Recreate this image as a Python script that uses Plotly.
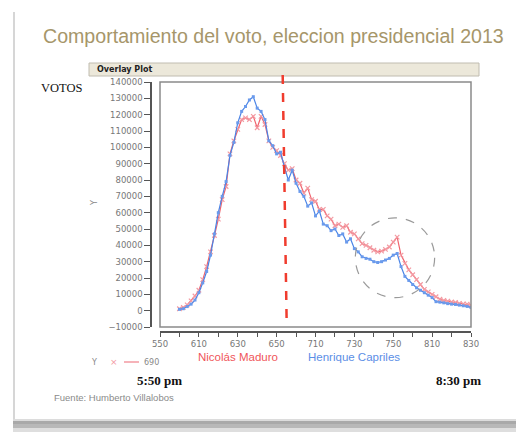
import plotly.graph_objects as go

# ---- data ----
minutes = list(range(10, 161, 2))  # minutes after 5:50 pm
capriles = [800, 1200, 2500, 4000, 6500, 11000, 17000, 24000, 34000, 47000,
            60000, 70000, 79000, 95000, 103000, 115000, 122000, 125000, 129000, 131000,
            124000, 122000, 117000, 104000, 101000, 96000, 97000, 88000, 80000, 86000,
            78000, 73000, 70000, 64000, 66000, 58000, 61000, 53000, 52000, 49000,
            50000, 46000, 47000, 42000, 44000, 38000, 36000, 33000, 32000, 31500,
            30000, 29500, 30000, 31000, 32000, 34000, 35000, 27000, 21000, 18500,
            16000, 14000, 12500, 11000, 9500, 8000, 5500, 5200, 4800, 4300,
            4000, 3800, 3400, 3000, 2600, 2000]
maduro = [1200, 2000, 3500, 6000, 9000, 12500, 19000, 27000, 36000, 46000,
          56000, 68000, 76000, 96000, 104000, 111000, 117000, 118000, 117000, 119000,
          112000, 119000, 114000, 104000, 100000, 98000, 95000, 90000, 86000, 87000,
          80000, 78000, 72000, 75000, 68000, 67000, 62000, 62000, 58000, 56000,
          52000, 53000, 51000, 52000, 48000, 47000, 44000, 41000, 40000, 38500,
          37000, 36000, 36500, 37500, 39000, 42000, 45000, 34000, 29000, 25000,
          22000, 19000, 16000, 13000, 11500, 10000, 8500, 7000, 6200, 5800,
          5300, 5000, 4500, 4200, 4000, 3300]
x_tick_vals = [0, 20, 40, 60, 80, 100, 120, 140, 160]
x_tick_text = ["550", "610", "630", "650", "710", "730", "750", "810", "830"]
y_tick_vals = list(range(-10000, 140001, 10000))

OFF = 8  # page body margin
W, H = 524 - OFF, 432 - OFF
L, R, T, B = 151 - OFF, 471 - OFF, 82 - OFF, 332 - OFF  # paper area in pixels


def px(x):
    return (x - OFF - L) / (R - L)


def py(y):
    return (B - (y - OFF)) / (B - T)


fig = go.Figure()
fig.add_trace(go.Scatter(
    x=minutes, y=maduro, mode="lines+markers", name="Nicolás Maduro",
    line=dict(color="#f0646e", width=1.2),
    marker=dict(symbol="x-thin", size=4.5, line=dict(color="#f39aa2", width=1.2)),
    cliponaxis=True))
fig.add_trace(go.Scatter(
    x=minutes, y=capriles, mode="lines+markers", name="Henrique Capriles",
    line=dict(color="#4a84e6", width=1.2),
    marker=dict(symbol="square", size=3, color="#6a9aec"),
    cliponaxis=True))

tickfont = dict(family="DejaVu Sans", size=8.5, color="#777777")

fig.update_layout(
    width=W, height=H,
    margin=dict(l=L, r=W - R, t=T, b=H - B, pad=0),
    paper_bgcolor="white", plot_bgcolor="white",
    showlegend=False,
    xaxis=dict(domain=[px(160), 1], range=[0, 160], anchor="free", position=0,
               tickvals=x_tick_vals, ticktext=x_tick_text, ticks="outside",
               ticklen=4, tickcolor="#555555", tickwidth=1,
               minor=dict(dtick=10, tick0=0, ticks="outside", ticklen=4,
                          tickcolor="#555555", showgrid=False),
               showline=True, linecolor="#555555", linewidth=1.5,
               showgrid=False, zeroline=False, tickfont=tickfont),
    yaxis=dict(domain=[py(327), 1], range=[-10000, 140000], anchor="free",
               position=0, tickvals=y_tick_vals, tickformat="d", ticks="outside",
               ticklen=6, tickcolor="#555555", showline=True, linecolor="#555555",
               linewidth=1.5, showgrid=False, zeroline=False,
               tickfont=tickfont),
)

shapes = []
# plot frame
shapes.append(dict(type="rect", xref="x domain", yref="y domain", x0=0, x1=1,
                   y0=0, y1=1, line=dict(color="#8a8a8a", width=1.5)))
# overlay header
shapes.append(dict(type="rect", xref="paper", yref="paper", x0=px(89), x1=px(479),
                   y0=py(76), y1=py(63), fillcolor="#ece8da",
                   line=dict(color="#c0bcb0", width=1), layer="below"))
# red dashed vertical line
shapes.append(dict(type="line", xref="paper", yref="paper", x0=px(282.7), x1=px(286.7),
                   y0=py(75), y1=py(325), line=dict(color="#f03c2e", width=2.5, dash="dash")))
# dashed circle
shapes.append(dict(type="circle", xref="x", yref="y", x0=100.5, x1=141.3,
                   y0=8000, y1=56800, line=dict(color="#9a9a9a", width=1.2, dash="dash")))
# legend line sample
shapes.append(dict(type="line", xref="paper", yref="paper", x0=px(124), x1=px(139),
                   y0=py(362), y1=py(362), line=dict(color="#f39aa2", width=1.5)))
# slide shadow: left edge
shapes.append(dict(type="line", xref="paper", yref="paper", x0=px(14), x1=px(14),
                   y0=py(12), y1=py(422), line=dict(color="#d6d6d6", width=2)))
# slide shadow: bottom
for y0, y1, c in [(419, 421, "#dcdcdc"), (421, 424, "#a9a9a9"),
                  (424, 428, "#b8b8b8"), (428, 432, "#dedede")]:
    shapes.append(dict(type="rect", xref="paper", yref="paper", x0=px(13), x1=px(524),
                       y0=py(y1), y1=py(y0), fillcolor=c, line=dict(width=0)))
fig.update_layout(shapes=shapes)


def ann(text, x, y, size, color, family="Liberation Sans", xanchor="center",
        textangle=0):
    fig.add_annotation(text=text, x=px(x), y=py(y), xref="paper", yref="paper",
                       showarrow=False, xanchor=xanchor, yanchor="middle",
                       textangle=textangle,
                       font=dict(family=family, size=size, color=color))


ann("Comportamiento del voto, eleccion presidencial 2013", 273.5, 36, 19.6, "#a6966a")
ann("<b>Overlay Plot</b>", 95, 69.5, 8, "#222222", family="DejaVu Sans", xanchor="left")
ann("VOTOS", 61.5, 88, 12.5, "#111111", family="Liberation Serif")
ann("Y", 94, 203, 8, "#888888", family="DejaVu Sans", textangle=-90)
ann("Y", 94, 362, 8, "#888888", family="DejaVu Sans")
ann("×", 114, 362, 9, "#f39aa2", family="DejaVu Sans")
ann("690", 151.5, 362, 8, "#888888", family="DejaVu Sans")
ann("Nicolás Maduro", 238, 357, 11.5, "#f0555a")
ann("Henrique Capriles", 353.5, 357, 11.5, "#5b8ee6")
ann("<b>5:50 pm</b>", 159.5, 380, 13, "#111111", family="Liberation Serif")
ann("<b>8:30 pm</b>", 458.5, 380, 13, "#111111", family="Liberation Serif")
ann("Fuente: Humberto Villalobos", 52, 397, 9.5, "#8a8a8a", xanchor="left")

fig.write_html("out.html")
